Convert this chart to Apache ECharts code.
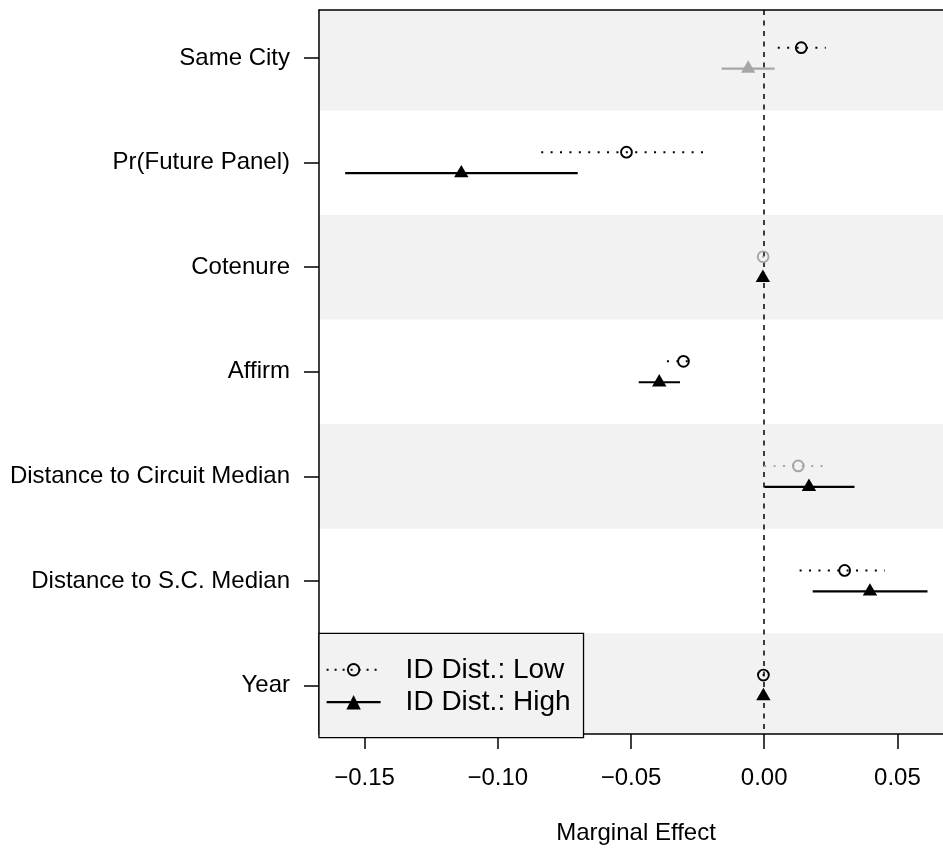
<!DOCTYPE html>
<html>
<head>
<meta charset="utf-8">
<script src="https://cdn.jsdelivr.net/npm/echarts@6/dist/echarts.min.js"></script>
<style>
html,body{margin:0;padding:0;background:#fff;}
#chart{width:943px;height:850px;}
</style>
</head>
<body>
<div id="chart"></div>
<script>
// ---- data ----
const categories = ['Same City', 'Pr(Future Panel)', 'Cotenure', 'Affirm',
  'Distance to Circuit Median', 'Distance to S.C. Median', 'Year'];
const lowEst  = [0.0139, -0.0517, -0.0004, -0.0303, 0.0128, 0.0302, -0.0003];
const lowLo   = [0.0051, -0.0837, -0.0008, -0.0365, 0.0000, 0.0133, -0.0006];
const lowHi   = [0.0231, -0.0211,  0.0000, -0.0260, 0.0243, 0.0453,  0.0000];
const lowSig  = [1, 1, 0, 1, 0, 1, 1];
const highEst = [-0.0060, -0.1137, -0.0005, -0.0394, 0.0168, 0.0397, -0.0003];
const highLo  = [-0.0160, -0.1573, -0.0008, -0.0471, 0.0001, 0.0182, -0.0006];
const highHi  = [ 0.0039, -0.0700, -0.0002, -0.0316, 0.0339, 0.0613,  0.0000];
const highSig = [0, 1, 1, 1, 1, 1, 1];
const xTicks = [-0.15, -0.10, -0.05, 0.00, 0.05];
const seriesNames = ['ID Dist.: Low', 'ID Dist.: High'];
const xTitle = 'Marginal Effect';

// ---- layout / style ----
const FONT = 'Liberation Sans, Arial, Helvetica, sans-serif';
const X_MIN = -0.16712, X_MAX = 0.06712;
const Y_MIN = 0.54, Y_MAX = 7.464;
const OFF = 0.1;
const GRAY = '#a6a6a6';
const BAND = '#f2f2f2';
const LEGEND_CIRCLE = 'path://M0,0 M18,18 M9,1.8 A7.2,7.2 0 1 1 8.99,1.8 Z';

const rows = categories.map((c, i) => i + 1);
const lowData = categories.map((c, i) => [lowEst[i], lowLo[i], lowHi[i], i + 1, lowSig[i]]);
const highData = categories.map((c, i) => [highEst[i], highLo[i], highHi[i], i + 1, highSig[i]]);

function renderBand(params, api) {
  const row = api.value(0);
  if ((row - 1) % 2 !== 0) return null;
  const cs = params.coordSys;
  const a = api.coord([X_MIN, row - 0.5]);
  const b = api.coord([X_MIN, row + 0.5]);
  let y0 = Math.max(Math.min(a[1], b[1]), cs.y);
  let y1 = Math.min(Math.max(a[1], b[1]), cs.y + cs.height);
  return {
    type: 'rect',
    shape: { x: cs.x, y: y0, width: cs.width + 10, height: y1 - y0 },
    style: { fill: BAND },
    silent: true
  };
}

function makeRender(isLow) {
  return function (params, api) {
    const est = api.value(0), lo = api.value(1), hi = api.value(2);
    const row = api.value(3), sig = api.value(4);
    const y = isLow ? row - OFF : row + OFF;
    const p0 = api.coord([lo, y]);
    const p1 = api.coord([hi, y]);
    const pc = api.coord([est, y]);
    const color = sig ? '#000' : GRAY;
    const children = [{
      type: 'line',
      shape: { x1: p0[0], y1: p0[1], x2: p1[0], y2: p1[1] },
      style: isLow
        ? { stroke: color, lineWidth: 2, lineDash: [2, 7.4], lineCap: 'butt' }
        : { stroke: color, lineWidth: 2.2 }
    }];
    if (isLow) {
      children.push({
        type: 'circle',
        shape: { cx: pc[0], cy: pc[1], r: 5.4 },
        style: { fill: 'none', stroke: color, lineWidth: 1.9 }
      });
    } else {
      children.push({
        type: 'polygon',
        shape: { points: [[pc[0], pc[1] - 8.2], [pc[0] - 7.2, pc[1] + 4.2], [pc[0] + 7.2, pc[1] + 4.2]] },
        style: { fill: color }
      });
    }
    return { type: 'group', children: children };
  };
}

const chart = echarts.init(document.getElementById('chart'), null, { renderer: 'canvas' });
const axisText = { color: '#000', fontSize: 24, fontFamily: FONT };

chart.setOption({
  backgroundColor: '#fff',
  animation: false,
  textStyle: { fontFamily: FONT },
  grid: { left: 319, top: 10, right: 0, height: 727, containLabel: false },
  xAxis: [{
    type: 'value', min: X_MIN, max: X_MAX, position: 'bottom', z: 10,
    name: xTitle, nameLocation: 'middle', nameGap: 87,
    nameTextStyle: Object.assign({ padding: [0, 0, 0, 10] }, axisText),
    axisLine: { show: true, onZero: false, lineStyle: { color: '#000', width: 1.5 } },
    axisTick: { show: true, length: 15, lineStyle: { color: '#000', width: 1.5 }, customValues: xTicks },
    axisLabel: {
      show: true, margin: 32, customValues: xTicks, ...axisText,
      formatter: v => (v < 0 ? '\u2212' : '') + Math.abs(v).toFixed(2)
    },
    splitLine: { show: false }
  }, {
    type: 'value', min: X_MIN, max: X_MAX, position: 'top', z: 10,
    axisLine: { show: true, onZero: false, lineStyle: { color: '#000', width: 1.5 } },
    axisTick: { show: false }, axisLabel: { show: false }, splitLine: { show: false }
  }],
  yAxis: [{
    type: 'value', min: Y_MIN, max: Y_MAX, inverse: true, z: 10,
    axisLine: { show: true, onZero: false, lineStyle: { color: '#000', width: 1.5 } },
    axisTick: { show: true, length: 15, lineStyle: { color: '#000', width: 1.5 }, customValues: rows },
    axisLabel: {
      show: true, margin: 29, customValues: rows, ...axisText,
      formatter: v => categories[Math.round(v) - 1] || ''
    },
    splitLine: { show: false }
  }],
  legend: {
    show: true, orient: 'vertical', left: 319, top: 633.3, z: 20,
    selectedMode: false,
    backgroundColor: BAND, borderColor: '#000', borderWidth: 1.3,
    padding: [22.5, 13, 21.5, 6.5],
    itemWidth: 54, itemHeight: 18, itemGap: 4.4,
    textStyle: { color: '#000', fontSize: 28, fontFamily: FONT, padding: [0, 0, 0, 20] },
    data: [
      { name: seriesNames[0],
        itemStyle: { color: 'transparent', borderColor: '#000', borderWidth: 1.9 },
        lineStyle: { color: '#000', width: 2, type: [2, 6] } },
      { name: seriesNames[1],
        itemStyle: { color: '#000', borderWidth: 0 },
        lineStyle: { color: '#000', width: 2.2, type: 'solid' } }
    ]
  },
  series: [
    {
      type: 'custom', name: 'bands', z: 1, silent: true, clip: false,
      renderItem: renderBand,
      encode: { y: 0 },
      data: rows.map(r => [r]),
      markLine: {
        silent: true, symbol: ['none', 'none'], z: 3,
        label: { show: false },
        lineStyle: { color: '#000', width: 1.5, type: [5, 5.5] },
        data: [{ xAxis: 0 }]
      }
    },
    {
      type: 'custom', name: seriesNames[0] + ' ', z: 5, silent: true,
      renderItem: makeRender(true), encode: { x: [0, 1, 2], y: 3 },
      data: lowData
    },
    {
      type: 'custom', name: seriesNames[1] + ' ', z: 5, silent: true,
      renderItem: makeRender(false), encode: { x: [0, 1, 2], y: 3 },
      data: highData
    },
    {
      type: 'line', name: seriesNames[0], data: [],
      symbol: LEGEND_CIRCLE, symbolSize: 14,
      itemStyle: { color: 'transparent', borderColor: '#000', borderWidth: 1.9 },
      lineStyle: { color: '#000', width: 2, type: [2, 6] }
    },
    {
      type: 'line', name: seriesNames[1], data: [],
      symbol: 'triangle', symbolSize: 14,
      itemStyle: { color: '#000' },
      lineStyle: { color: '#000', width: 2.2 }
    }
  ]
});
</script>
</body>
</html>
